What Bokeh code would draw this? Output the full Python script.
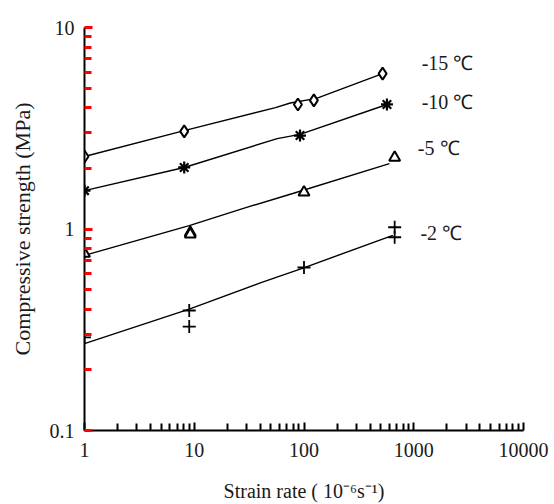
from bokeh.plotting import figure
from bokeh.models import FixedTicker, CustomJSTickFormatter, ColumnDataSource
from bokeh.core.properties import value
from bokeh.embed import file_html
from bokeh.resources import INLINE

# ---- data ----
# -15 C
x15 = [1, 8.1, 88, 123, 520]
y15 = [2.29, 3.05, 4.15, 4.35, 5.9]
lx15 = [1, 8.1, 55, 75, 130, 520]
ly15 = [2.29, 3.08, 4.0, 4.22, 4.45, 5.9]
# -10 C
x10 = [1, 8.1, 92, 570]
y10 = [1.55, 2.02, 2.91, 4.15]
lx10 = [1, 8.1, 57, 92, 570]
ly10 = [1.55, 2.02, 2.81, 2.95, 4.15]
# -5 C
x5 = [1, 9.2, 9.2, 100, 670]
y5 = [0.755, 0.96, 0.94, 1.52, 2.26]
lx5 = [1, 9, 30, 79, 600]
ly5 = [0.74, 1.04, 1.28, 1.50, 2.11]
# -2 C
x2 = [1, 9, 9, 100, 670, 670]
y2 = [0.29, 0.394, 0.328, 0.644, 1.02, 0.91]
lx2 = [1, 9, 40, 98, 645]
ly2 = [0.27, 0.40, 0.54, 0.64, 0.93]

series_labels = ["-15 \u2103", "-10 \u2103", "-5 \u2103", "-2 \u2103"]
label_x = [1180, 1180, 1090, 1150]
label_y = [6.7, 4.25, 2.51, 0.96]

x_ticks = [1, 10, 100, 1000, 10000]
y_ticks = [0.1, 1, 10]
x_minor = [m * 10 ** k for k in range(0, 4) for m in range(2, 10)]
y_minor = [m * 10 ** k for k in (-1, 0) for m in range(2, 10)]

FONT = "Liberation Serif"
INK = "#1a1a1a"

p = figure(width=554, height=504, x_axis_type="log", y_axis_type="log",
           x_range=(1, 10000), y_range=(0.1, 10),
           output_backend="svg", toolbar_location=None,
           min_border_left=84, min_border_right=31, min_border_top=27,
           min_border_bottom=74)
p.outline_line_color = None
p.grid.visible = False

p.xaxis.ticker = FixedTicker(ticks=x_ticks, minor_ticks=x_minor)
p.yaxis.ticker = FixedTicker(ticks=y_ticks, minor_ticks=y_minor)
fmt = "return tick.toString();"
p.xaxis.formatter = CustomJSTickFormatter(code=fmt)
p.yaxis.formatter = CustomJSTickFormatter(code=fmt)

for ax in (p.xaxis, p.yaxis):
    ax.axis_line_color = "black"
    ax.axis_line_width = 2
    ax.major_tick_in = 8
    ax.major_tick_out = 0
    ax.minor_tick_in = 7
    ax.minor_tick_out = 0
    ax.major_tick_line_color = "black"
    ax.minor_tick_line_color = "black"
    ax.major_tick_line_width = 2
    ax.minor_tick_line_width = 2
    ax.major_label_text_font = FONT
    ax.major_label_text_font_size = "20px"
    ax.major_label_text_color = INK
    ax.axis_label_text_font = FONT
    ax.axis_label_text_font_style = "normal"
    ax.axis_label_text_color = INK

# diagnostic colour for the y ticks
p.yaxis.major_tick_line_color = "red"
p.yaxis.minor_tick_line_color = "red"
p.yaxis.major_tick_line_width = 3
p.yaxis.minor_tick_line_width = 3
p.xaxis.axis_label_text_font_size = "20px"
p.yaxis.axis_label_text_font_size = "22px"
p.xaxis.axis_label = "Strain rate ( 10\u207b\u2076s\u207b\u00b9)"
p.yaxis.axis_label = "Compressive strength (MPa)"
p.xaxis.major_label_standoff = 12
p.yaxis.major_label_standoff = 10
p.xaxis.axis_label_standoff = 20
p.yaxis.axis_label_standoff = 12

# lines
for lx, ly in ((lx15, ly15), (lx10, ly10), (lx5, ly5), (lx2, ly2)):
    p.line(lx, ly, line_color="black", line_width=1.4)

# markers
p.scatter(x15, y15, marker="diamond", size=12, fill_color="white",
          line_color="black", line_width=2)
p.scatter(x10, y10, marker="asterisk", size=12, line_color="black", line_width=2.2)
p.scatter(x5, y5, marker="triangle", size=11, fill_color="white",
          line_color="black", line_width=2)
p.scatter(x2, y2, marker="cross", size=13, line_color="black", line_width=1.8)

src = ColumnDataSource(dict(x=label_x, y=label_y, t=series_labels))
p.text("x", "y", text="t", source=src, text_font=value(FONT),
       text_font_size="20px", text_baseline="middle", text_align="left",
       text_color=INK)

open("out.html", "w").write(file_html(p, INLINE))
